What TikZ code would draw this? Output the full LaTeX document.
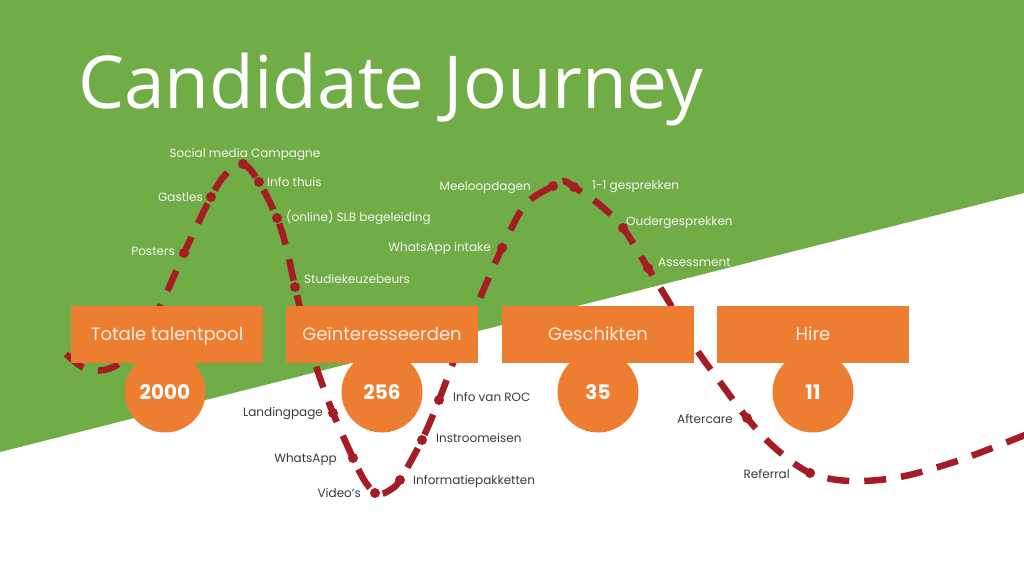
\documentclass[tikz,border=0pt]{standalone}
\usepackage{fontspec}
\setmainfont{Poppins}
\newfontfamily\titlefont{Open Sans}
\definecolor{bggreen}{HTML}{70AD47}
\definecolor{boxorange}{HTML}{ED7D31}
\definecolor{pathred}{HTML}{A51C24}
\definecolor{labeldark}{HTML}{3A3A3A}
\definecolor{labellight}{HTML}{F4F4F0}
\definecolor{boxtext}{HTML}{FDEBDD}
\begin{document}
\begin{tikzpicture}[x=1pt,y=-1pt,
  stagebox/.style={fill=boxorange, minimum width=192pt, minimum height=57pt, inner sep=0pt, text height=14pt, text depth=2pt, text=boxtext, font=\fontsize{18}{20}\selectfont},
  countcircle/.style={circle, fill=boxorange, minimum size=81pt, inner sep=0pt, text height=14pt, text depth=0pt, text=white, font=\bfseries\fontsize{20}{22}\selectfont},
  lbl/.style={inner sep=0pt, font=\fontsize{12}{14}\selectfont},
  lblg/.style={lbl, text=labellight},
  lblw/.style={lbl, text=labeldark},
  journey/.style={draw=pathred, line width=6.5pt, dash pattern=on 22pt off 15pt},
  pin/.style={circle, fill=pathred, minimum size=10pt, inner sep=0pt}]
\useasboundingbox (0,0) rectangle (1024,576);
\fill[white] (0,0) rectangle (1024,576);
\fill[bggreen] (0,0) -- (1024,0) -- (1024,193) -- (0,452) -- cycle;

\node[anchor=base west, inner sep=0pt, text=white, font=\titlefont\fontsize{73}{78}\selectfont] (title) at (78,108) {Candidate Journey};

% journey curve
\draw[journey] plot[smooth, tension=0.55] coordinates {
 (66,354) (84,368) (104,370) (124,360) (146,332) (166,294) (184,253) (211,197) (226,174) (243,164)
 (259,182) (277,218) (287,250) (295,287) (308,340) (320,378) (333,413) (353,458) (366,483) (378,494)
 (390,490) (400,480) (422,440) (439,400) (458,350) (480,298) (502,248) (525,205) (553,186) (564,181)
 (574,187) (600,205) (623,228) (648,268) (672,307) (697,350) (720,382) (747,418) (775,448) (810,473)
 (850,481) (900,477) (960,460) (1030,433)};

% pins
\node[pin] (pSocial) at (243,164) {};
\node[pin] (pGastles) at (211,197) {};
\node[pin] (pPosters) at (184,253) {};
\node[pin] (pInfoThuis) at (259,182) {};
\node[pin] (pSLB) at (277,218) {};
\node[pin] (pStudie) at (295,287) {};
\node[pin] (pLanding) at (333,413) {};
\node[pin] (pWhatsApp) at (353,458) {};
\node[pin] (pVideo) at (375,493) {};
\node[pin] (pPakket) at (400,480) {};
\node[pin] (pInstroom) at (422,440) {};
\node[pin] (pROC) at (439,400) {};
\node[pin] (pIntake) at (502,248) {};
\node[pin] (pMeeloop) at (553,186) {};
\node[pin] (pGesprek) at (574,187) {};
\node[pin] (pOuder) at (623,228) {};
\node[pin] (pAssess) at (648,268) {};
\node[pin] (pAfter) at (747,418) {};
\node[pin] (pReferral) at (810,473) {};

% count circles
\node[countcircle] (c1) at (165,392) {2000};
\node[countcircle] (c2) at (382,392) {256};
\node[countcircle] (c3) at (598,392) {35};
\node[countcircle] (c4) at (813,392) {11};

% stage boxes
\node[stagebox] (b1) at (167,334) {Totale talentpool};
\node[stagebox] (b2) at (382,334) {Geïnteresseerden};
\node[stagebox] (b3) at (598,334) {Geschikten};
\node[stagebox] (b4) at (813,334) {Hire};

% labels on green
\node[lblg] (lSocial) at (245,155) {Social media Campagne};
\node[lblg, anchor=east] (lGastles) at (203,197) {Gastles};
\node[lblg, anchor=east] (lPosters) at (175,251) {Posters};
\node[lblg, anchor=west] (lInfoThuis) at (267,182) {Info thuis};
\node[lblg, anchor=west] (lSLB) at (286,218) {(online) SLB begeleiding};
\node[lblg, anchor=west] (lStudie) at (304,279) {Studiekeuzebeurs};
\node[lblg, anchor=east] (lMeeloop) at (531,188) {Meeloopdagen};
\node[lblg, anchor=west] (lGesprek) at (592,187) {1-1 gesprekken};
\node[lblg, anchor=west] (lOuder) at (626,223) {Oudergesprekken};
\node[lblg, anchor=east] (lIntake) at (491,248) {WhatsApp intake};
\node[lblg, anchor=west] (lAssess) at (658,262) {Assessment};

% labels on white
\node[lblw, anchor=east] (lLanding) at (323,414) {Landingpage};
\node[lblw, anchor=east] (lWhatsApp) at (337,460) {WhatsApp};
\node[lblw, anchor=east] (lVideo) at (361,493) {Video's};
\node[lblw, anchor=west] (lROC) at (453,397) {Info van ROC};
\node[lblw, anchor=west] (lInstroom) at (436,438) {Instroomeisen};
\node[lblw, anchor=west] (lPakket) at (413,481) {Informatiepakketten};
\node[lblw, anchor=east] (lAfter) at (733,419) {Aftercare};
\node[lblw, anchor=east] (lReferral) at (790,474) {Referral};
\end{tikzpicture}
\end{document}
